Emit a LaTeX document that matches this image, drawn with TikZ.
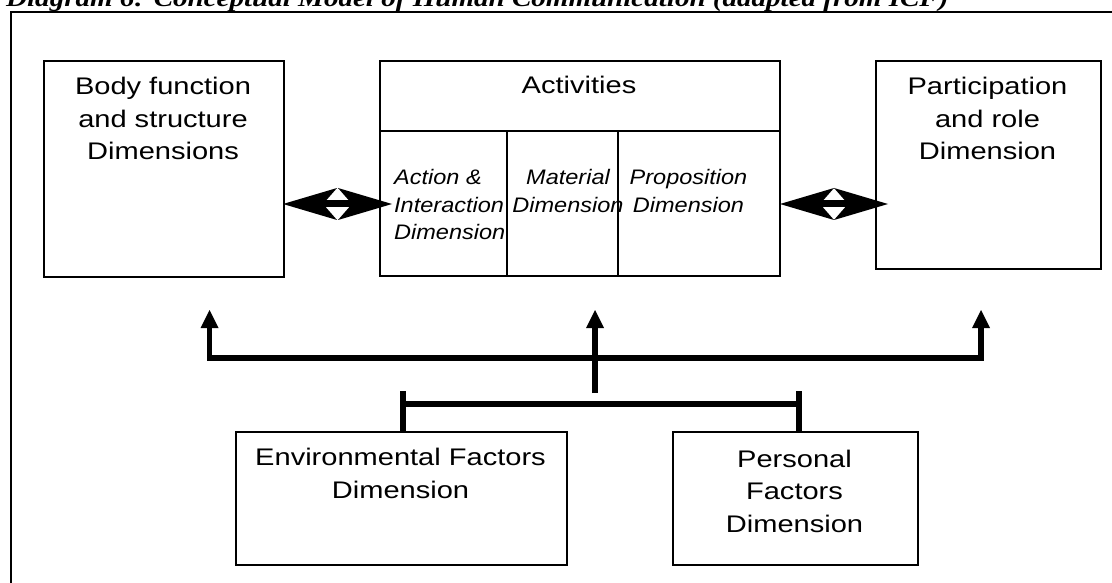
\documentclass[tikz,border=0pt]{standalone}
\usepackage{fontspec}
\setmainfont{Liberation Sans}[FakeStretch=1.21]
\newfontfamily\itfont{Liberation Sans}[FakeStretch=1.12]
\newfontfamily\titlefont{Liberation Serif}[FakeStretch=1.21]
\usetikzlibrary{arrows.meta}

\begin{document}
\begin{tikzpicture}[x=1pt,y=-1pt,
  box/.style={draw, line width=1.8pt, inner sep=0pt, anchor=north west},
  % text nodes are placed by the baseline of their last line
  boxtext/.style={anchor=base, align=center, inner sep=0pt,
    font=\fontsize{24}{32.5}\selectfont},
  subtext/.style={anchor=base, align=center, inner sep=0pt,
    font=\itfont\itshape\fontsize{21}{27.5}\selectfont},
  divider/.style={line width=1.8pt},
  frame/.style={line width=2.4pt},
  dblarrow/.style={line width=7pt,
    {Stealth[length=54pt,width=32pt,inset=14pt,line width=0pt]}-{Stealth[length=54pt,width=32pt,inset=14pt,line width=0pt]}},
  upbar/.style={line width=5.5pt, line join=miter,
    {Triangle[length=18pt,width=18pt,line width=0pt]}-{Triangle[length=18pt,width=18pt,line width=0pt]}},
  uparrow/.style={line width=5.5pt, -{Triangle[length=18pt,width=18pt,line width=0pt]}},
  linkbar/.style={line width=5.5pt, line join=miter}
]
\useasboundingbox (0,0) rectangle (1112,583);

% caption above the frame
\node[anchor=base west, inner sep=0pt,
  font=\titlefont\bfseries\itshape\fontsize{24}{28}\selectfont] (title) at (6,7)
  {Diagram 6: Conceptual Model of Human Communication (adapted from ICF)};

% outer frame
\draw[frame] (11,12) rectangle (1130,600);

% upper row of boxes
\node[box, minimum width=240pt, minimum height=216pt] (body) at (43,60) {};
\node[box, minimum width=400pt, minimum height=215pt] (act) at (379,60) {};
\node[box, minimum width=225pt, minimum height=208pt] (part) at (875,60) {};

\node[boxtext] (bodytxt) at (163,160) {Body function\\and structure\\Dimensions};
\node[boxtext] (parttxt) at (987.5,160) {Participation\\and role\\Dimension};
\node[boxtext] (acttxt) at (579,94) {Activities};

% subdivisions of the activities box
\draw[divider] ([yshift=-71pt]act.north west) -- ([yshift=-71pt]act.north east);
\draw[divider] ([xshift=128pt,yshift=-71pt]act.north west) -- ([xshift=128pt]act.south west);
\draw[divider] ([xshift=239pt,yshift=-71pt]act.north west) -- ([xshift=239pt]act.south west);

\node[subtext, anchor=base west, align=left] (col1) at (394,240) {Action \&\\Interaction\\Dimension};
\node[subtext] (col2) at (568,212) {Material\\Dimension};
\node[subtext] (col3) at (688.5,212) {Proposition\\Dimension};

% two-way links between the upper boxes
\coordinate (la) at (283,204);
\coordinate (lb) at (392,204);
\coordinate (ra) at (780,204);
\coordinate (rb) at (888,204);
\draw[dblarrow] (la) -- (lb);
\draw[dblarrow] (ra) -- (rb);

% lower row of boxes
\node[box, minimum width=331pt, minimum height=133pt] (env) at (235,431) {};
\node[box, minimum width=245pt, minimum height=133pt] (pers) at (672,431) {};
\node[boxtext] (envtxt) at (400.5,498) {Environmental Factors\\Dimension};
\node[boxtext] (perstxt) at (794.5,532) {Personal\\Factors\\Dimension};

% distribution bar with arrows up to the three upper boxes
\coordinate (ltip) at (209.5,310);
\coordinate (lcorner) at (209.5,358);
\coordinate (rcorner) at (981,358);
\coordinate (rtip) at (981,310);
\coordinate (mtip) at (595,310);
\coordinate (mfoot) at (595,393);
\draw[upbar] (ltip) -- (lcorner) -- (rcorner) -- (rtip);
\draw[uparrow] (mfoot) -- (mtip);

% joining bar over the two lower boxes
\coordinate (etop) at (403,391);
\coordinate (ebot) at (403,431);
\coordinate (ptop) at (799,391);
\coordinate (pbot) at (799,431);
\coordinate (ebar) at (403,404);
\coordinate (pbar) at (799,404);
\draw[linkbar] (etop) -- (ebot);
\draw[linkbar] (ptop) -- (pbot);
\draw[linkbar] (ebar) -- (pbar);
\end{tikzpicture}
\end{document}
